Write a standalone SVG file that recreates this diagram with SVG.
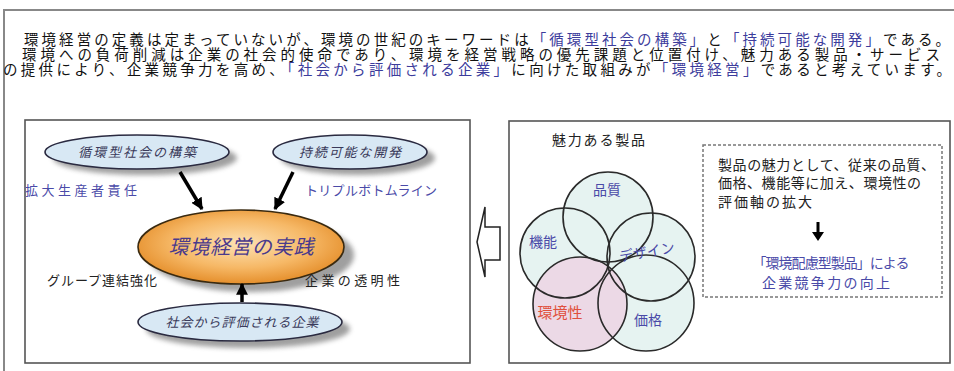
<svg xmlns="http://www.w3.org/2000/svg" width="954" height="371" viewBox="0 0 954 371">
<defs>
<style>
text{font-family:"Noto Sans CJK JP","Noto Sans",sans-serif;}
.hd{font-size:14.5px;fill:#111;}
.bl{fill:#3c3c9c;}
.lbl{font-size:13px;fill:#222;}
.lblb{font-size:13px;fill:#4a4aa8;}
.eltx{font-size:13px;font-style:italic;fill:#3a3a5a;}
.el{fill:#d8e8f4;stroke:#2a2a40;stroke-width:1.6;}
.sh{fill:#777;opacity:0.7;filter:url(#blur);}
.panel{fill:#fff;stroke:#555;stroke-width:1.6;}
.cf{fill:#e6f3f1;}
.cs{fill:none;stroke:#2a2a2a;stroke-width:1.6;}
.ctx{font-size:14px;fill:#4a4aa8;}
.bx{font-size:14px;fill:#222;}
.conn{stroke:#000;stroke-width:3.5;fill:none;marker-end:url(#ah);}
</style>
<filter id="blur" x="-20%" y="-40%" width="140%" height="180%"><feGaussianBlur stdDeviation="2.5"/></filter>
<radialGradient id="og" cx="50%" cy="45%" r="55%">
<stop offset="0" stop-color="#fde2b4"/>
<stop offset="0.6" stop-color="#f6b866"/>
<stop offset="1" stop-color="#e58f2c"/>
</radialGradient>
<marker id="ah" viewBox="0 0 10 10" refX="9" refY="5" markerWidth="3.4" markerHeight="3.4" orient="auto" markerUnits="strokeWidth">
<path d="M0,0 L10,5 L0,10 z" fill="#000"/>
</marker>
</defs>
<rect width="954" height="371" fill="#fff"/>
<!-- outer frame -->
<path d="M4,371 V10 H954" fill="none" stroke="#888" stroke-width="2"/>

<g id="header">
<text class="hd" x="24" y="45" textLength="926" lengthAdjust="spacing">環境経営の定義は定まっていないが、環境の世紀のキーワードは<tspan class="bl">「循環型社会の構築」</tspan>と<tspan class="bl">「持続可能な開発」</tspan>である。</text>
<text class="hd" x="22" y="60" textLength="918" lengthAdjust="spacing">環境への負荷削減は企業の社会的使命であり、環境を経営戦略の優先課題と位置付け、魅力ある製品・サービス</text>
<text class="hd" x="3" y="75" textLength="948" lengthAdjust="spacing">の提供により、企業競争力を高め、<tspan class="bl">「社会から評価される企業」</tspan>に向けた取組みが<tspan class="bl">「環境経営」</tspan>であると考えています。</text>
</g>

<!-- left panel -->
<rect id="left-panel" class="panel" x="25" y="120" width="445" height="243"/>

<g id="node-junkan">
<ellipse class="sh" cx="145" cy="158" rx="92" ry="17"/>
<ellipse class="el" cx="137" cy="152" rx="92" ry="17"/>
<text class="eltx" x="137" y="157" text-anchor="middle" textLength="118" lengthAdjust="spacing">循環型社会の構築</text>
</g>
<g id="node-jizoku">
<ellipse class="sh" cx="358" cy="158" rx="77" ry="17"/>
<ellipse class="el" cx="350" cy="152" rx="77" ry="17"/>
<text class="eltx" x="350" y="157" text-anchor="middle" textLength="102" lengthAdjust="spacing">持続可能な開発</text>
</g>
<g id="node-center">
<ellipse class="sh" cx="251" cy="255" rx="103" ry="37"/>
<ellipse cx="241" cy="247" rx="103" ry="37" fill="url(#og)" stroke="#3a2a10" stroke-width="1.6"/>
<text x="241" y="254" text-anchor="middle" font-size="20" font-style="italic" fill="#4a3a8c" textLength="145" lengthAdjust="spacing">環境経営の実践</text>
</g>
<g id="node-shakai">
<ellipse class="sh" cx="248" cy="329" rx="102" ry="19"/>
<ellipse class="el" cx="240" cy="322" rx="102" ry="19"/>
<text class="eltx" x="242" y="327" text-anchor="middle" textLength="153" lengthAdjust="spacing">社会から評価される企業</text>
</g>

<g id="connectors">
<line class="conn" x1="180" y1="172" x2="202" y2="209"/>
<line class="conn" x1="293" y1="172" x2="275" y2="209"/>
<line class="conn" x1="242" y1="302" x2="242" y2="284"/>
</g>

<g id="left-labels">
<text class="lblb" x="25" y="195" textLength="112" lengthAdjust="spacing">拡大生産者責任</text>
<text class="lblb" x="305" y="195" textLength="132" lengthAdjust="spacing">トリプルボトムライン</text>
<text class="lbl" x="47" y="285" textLength="110" lengthAdjust="spacing">グループ連結強化</text>
<text class="lbl" x="305" y="285" textLength="95" lengthAdjust="spacing">企業の透明性</text>
</g>

<!-- hollow arrow -->
<g id="hollow-arrow">
<path d="M477,242 L485,207 L485,227 L500,227 L500,260 L485,260 L485,277 Z" fill="#fff" stroke="#222" stroke-width="1.5" stroke-linejoin="miter"/>
</g>

<!-- right panel -->
<rect id="right-panel" class="panel" x="509" y="121" width="441" height="242"/>
<text class="bx" x="552" y="145" textLength="93" lengthAdjust="spacing">魅力ある製品</text>

<g id="venn">
<circle class="cf" cx="608" cy="217" r="45"/>
<circle class="cf" cx="565" cy="253" r="45"/>
<circle class="cf" cx="651" cy="257" r="44"/>
<circle class="cf" cx="646" cy="303" r="48"/>
<circle cx="580" cy="304" r="47" fill="#ecd9e6"/>
<circle class="cs" cx="608" cy="217" r="45"/>
<circle class="cs" cx="565" cy="253" r="45"/>
<circle class="cs" cx="651" cy="257" r="44"/>
<circle class="cs" cx="646" cy="303" r="48"/>
<circle class="cs" cx="580" cy="304" r="47"/>
<text class="ctx" x="607" y="195" text-anchor="middle">品質</text>
<text class="ctx" x="543" y="247" text-anchor="middle">機能</text>
<text class="ctx" x="647" y="257" text-anchor="middle" transform="rotate(-10 647 252)">デザイン</text>
<text x="560" y="318" text-anchor="middle" font-size="15" fill="#e0503c">環境性</text>
<text class="ctx" x="648" y="325" text-anchor="middle">価格</text>
</g>

<g id="note-box">
<rect x="703" y="145" width="239" height="152" fill="#fff" stroke="#777" stroke-width="1.5" stroke-dasharray="3,2"/>
<text class="bx" x="718" y="170" textLength="217" lengthAdjust="spacing">製品の魅力として、従来の品質、</text>
<text class="bx" x="718" y="188" textLength="203" lengthAdjust="spacing">価格、機能等に加え、環境性の</text>
<text class="bx" x="718" y="207" textLength="94" lengthAdjust="spacing">評価軸の拡大</text>
<path d="M816.5,222 H819.5 V232 H824 L818,241 L812,232 H816.5 Z" fill="#000"/>
<text x="831" y="268" text-anchor="middle" font-size="14" fill="#4a4aa8" textLength="157" lengthAdjust="spacing">「環境配慮型製品」による</text>
<text x="826" y="288" text-anchor="middle" font-size="14" fill="#4a4aa8" textLength="128" lengthAdjust="spacing">企業競争力の向上</text>
</g>
</svg>
